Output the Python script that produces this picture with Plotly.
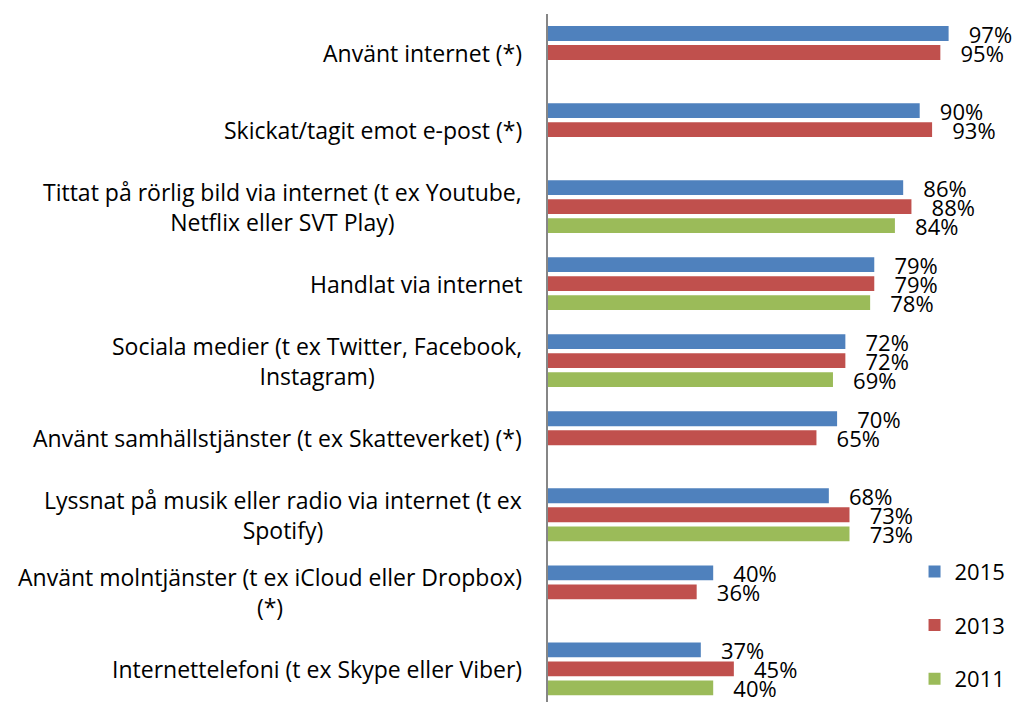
import plotly.graph_objects as go

# survey categories, top to bottom
categories = [
    "Använt internet (*)",
    "Skickat/tagit emot e-post (*)",
    "Tittat på rörlig bild via internet (t ex Youtube,<br>Netflix eller SVT Play)",
    "Handlat via internet",
    "Sociala medier (t ex Twitter, Facebook,<br>Instagram)",
    "Använt samhällstjänster (t ex Skatteverket) (*)",
    "Lyssnat på musik eller radio via internet (t ex<br>Spotify)",
    "Använt molntjänster (t ex iCloud eller Dropbox)<br>(*)",
    "Internettelefoni (t ex Skype eller Viber)",
]
years = ["2015", "2013", "2011"]
values_2015 = [97, 90, 86, 79, 72, 70, 68, 40, 37]
values_2013 = [95, 93, 88, 79, 72, 65, 73, 36, 45]
values_2011 = [None, None, 84, 78, 69, None, 73, None, 40]
colors = ["#4F81BD", "#C0504D", "#9BBB59"]

FONT = "Open Sans"
keys = list(range(len(categories)))

fig = go.Figure()
for name, vals, col in zip(years, [values_2015, values_2013, values_2011], colors):
    fig.add_trace(go.Bar(
        y=keys, x=vals, name=name, orientation="h", legendgroup=name,
        marker=dict(color=col, line=dict(width=0)),
        text=[("\u00a0\u00a0\u00a0%d%%" % v) if v is not None else "" for v in vals],
        textposition="outside",
        constraintext="none",
        cliponaxis=False,
        textfont=dict(family=FONT, size=22, color="#000000"),
    ))

# category labels as centred multi-line annotations
for i, lab in enumerate(categories):
    fig.add_annotation(
        x=0, xref="paper", y=i, yref="y",
        text=lab, showarrow=False, xanchor="right", align="center",
        xshift=-24, font=dict(family=FONT, size=23, color="#000000"),
    )

fig.update_layout(
    width=1014, height=702,
    margin=dict(l=548, r=53, t=14, b=0, autoexpand=False),
    barmode="group", bargap=0.26, bargroupgap=0.22,
    plot_bgcolor="white", paper_bgcolor="white",
    font=dict(family=FONT, size=20, color="#000000"),
    legend=dict(
        x=0.8875, xanchor="left", y=0.22, yanchor="top",
        traceorder="grouped", tracegroupgap=22,
        font=dict(family=FONT, size=22, color="#000000"),
        bgcolor="rgba(0,0,0,0)",
    ),
    showlegend=True,
)
fig.update_xaxes(range=[0, 100], showgrid=False, zeroline=False,
                 showticklabels=False, showline=False)
fig.update_yaxes(range=[8.43, -0.5], showgrid=False, zeroline=False,
                 showticklabels=False, showline=True, linecolor="#868686",
                 linewidth=2)

# drop the default page margin so the figure fills the window
fig.write_html("out.html",
               config={"displayModeBar": False},
               post_script="document.body.style.margin='0';"
                           "document.body.style.overflow='hidden';")
